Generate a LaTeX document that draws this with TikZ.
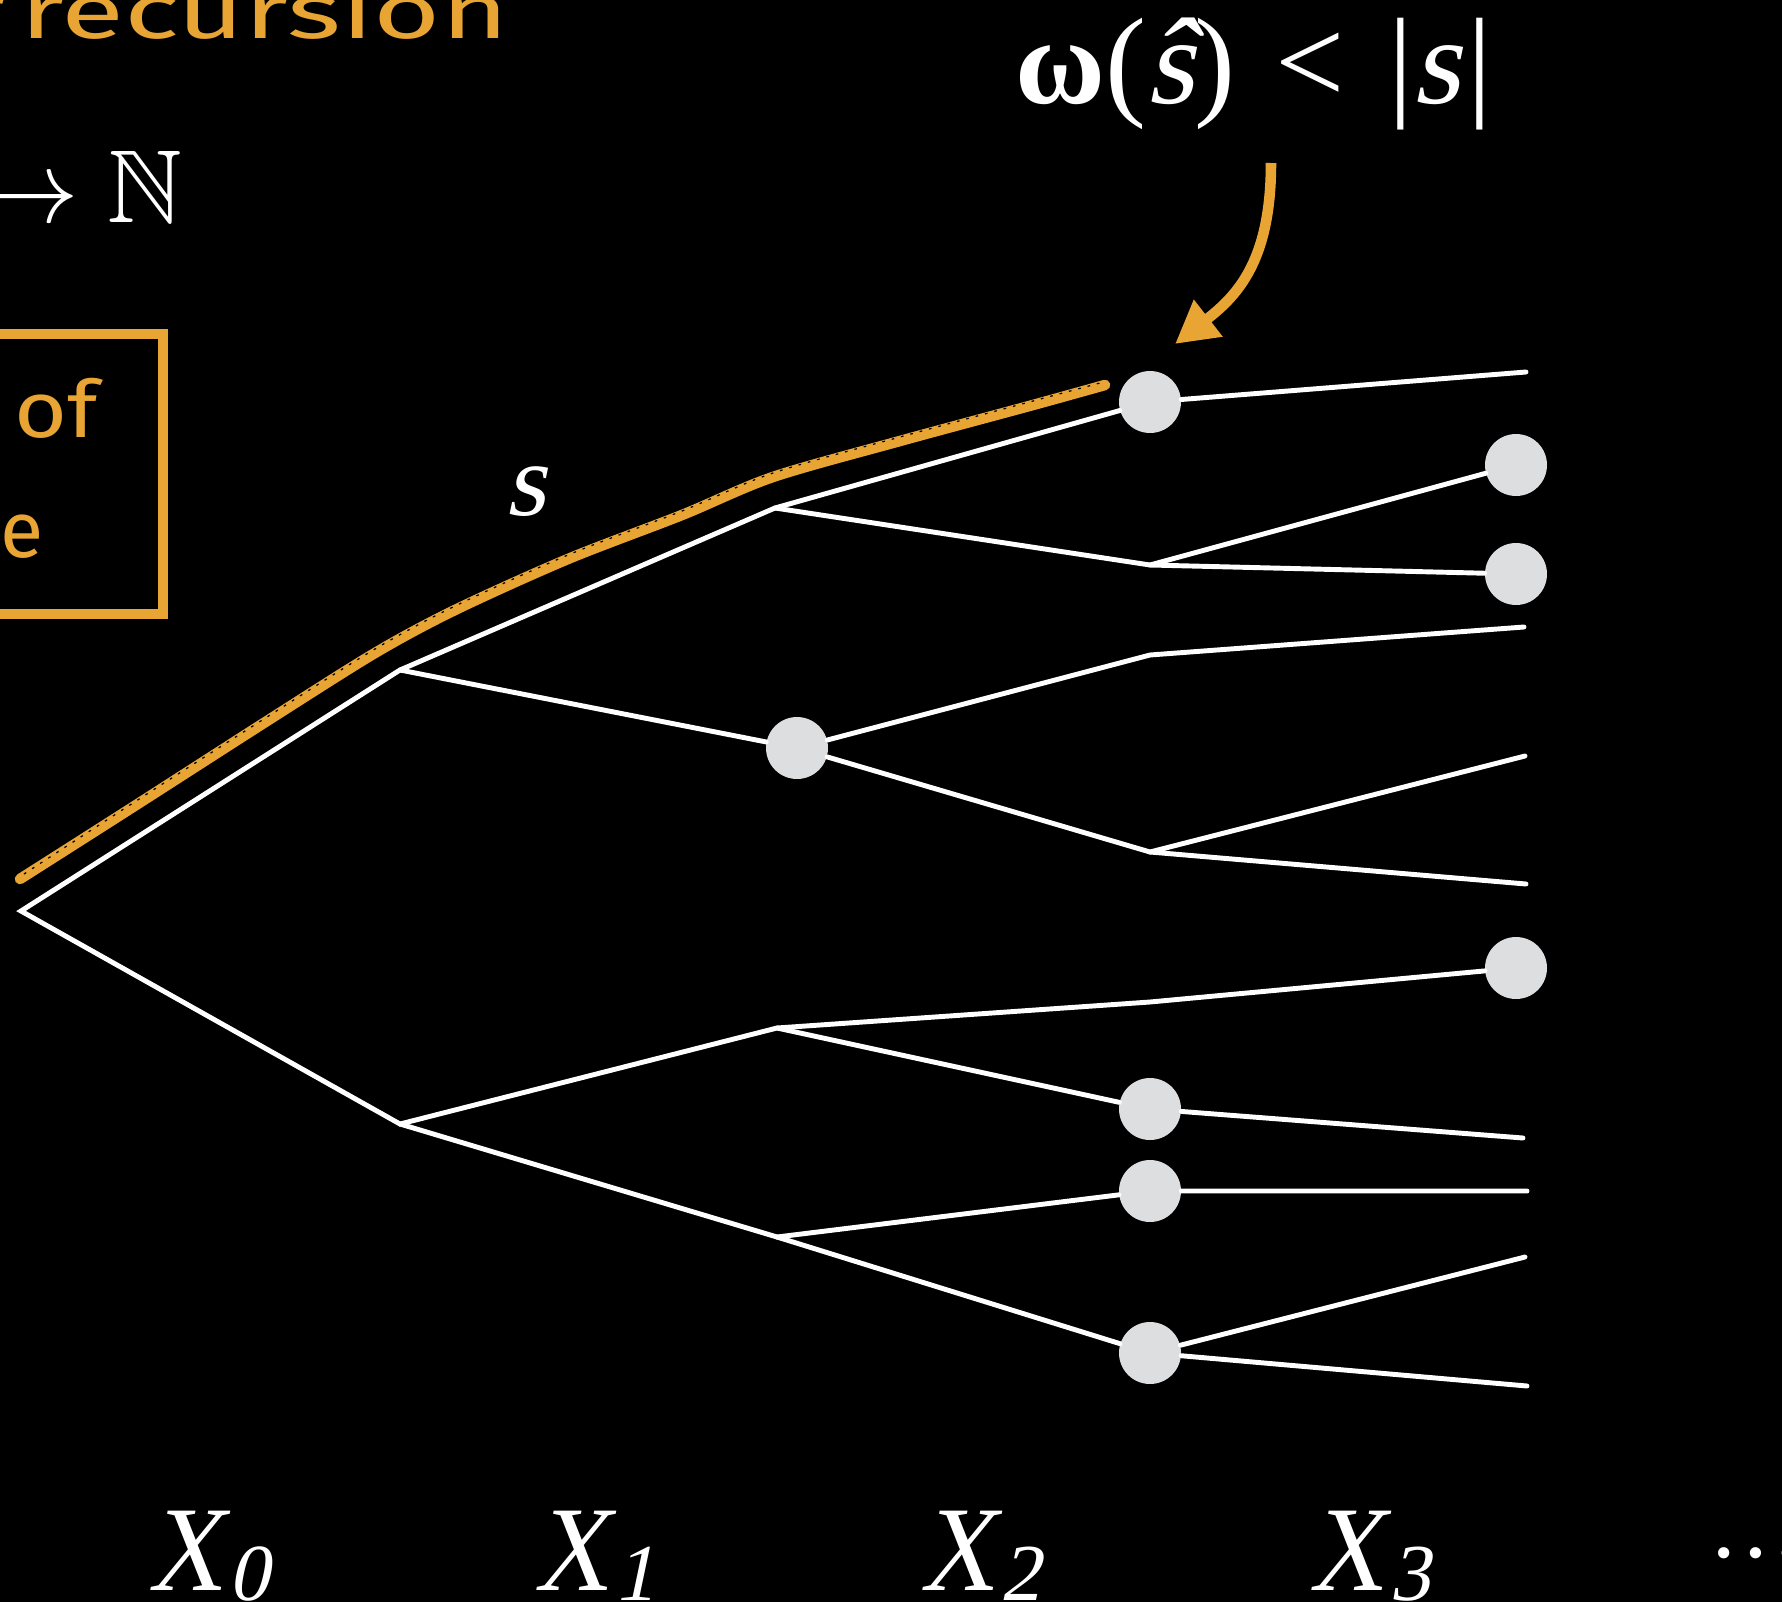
\RequirePackage{fix-cm}
\documentclass[tikz,border=0pt]{standalone}
\usepackage{amssymb}
\usepackage{fontspec}
\setmainfont{Liberation Serif}[ItalicFont={Liberation Serif},ItalicFeatures={FakeSlant=0.21},BoldFont={Liberation Serif Bold}]
\newfontfamily\handfont{Fira Sans}
\usetikzlibrary{positioning,arrows.meta,calc}
\definecolor{chalkOrange}{RGB}{233,165,52}
\definecolor{dotGray}{RGB}{221,222,224}
\newcommand\lvltext[1]{\scalebox{0.85}[1]{X}\hspace{3pt}\raisebox{-5.7pt}{\fontsize{46}{50}\selectfont #1}}

\begin{document}
\begin{tikzpicture}[x=0.02cm,y=-0.02cm,
    edge/.style={white,line width=2.8pt,line cap=round},
    dot/.style={circle,fill=dotGray,minimum size=1.24cm,inner sep=0pt},
    chalk/.style={chalkOrange,line width=6pt,line cap=round},
    chalkgrain/.style={black,line width=0.7pt,dash pattern=on 1.5pt off 4pt},
    callarr/.style={chalkOrange,line width=6pt,-{Triangle[length=24pt,width=25pt]}},
    hand/.style={text=chalkOrange,inner sep=0pt,font=\handfont},
    lvl/.style={text=white,anchor=base west,inner sep=0pt,font=\fontsize{69}{80}\selectfont\itshape}]
  \useasboundingbox (0,0) rectangle (1782,1602);
  \fill[black] (0,0) rectangle (1782,1602);
  \clip (0,0) rectangle (1782,1602);

  % leftovers of the slide, cut by the frame
  \node[hand,anchor=base east] (rec) at (509,39) {\fontsize{44}{48}\selectfont\scalebox{1.49}[1]{r\hspace{-0.14em} recursion}};
  \node[text=white,anchor=base east,inner sep=0pt,font=\fontsize{59}{70}\selectfont] (nat) at (183,222) {$\to\mathbb{N}$};
  \draw[chalkOrange,line width=5.8pt] (-40,334) rectangle (163,614);
  \node[hand,anchor=base west] (bxof) at (14,437) {\fontsize{45}{54}\selectfont\scalebox{1.15}[1]{of}};
  \node[hand,anchor=base west] (bxe) at (0,557) {\fontsize{45}{54}\selectfont e};

  % the tree
  \coordinate (r) at (21,911);
  \coordinate (a1) at (400,670);
  \coordinate (b1) at (400,1124);
  \coordinate (p) at (775,508);
  \node[dot] (m) at (797,748) {};
  \coordinate (q) at (777,1028);
  \coordinate (rr) at (777,1237);
  \node[dot] (t) at (1150,402) {};
  \coordinate (j1) at (1150,565);
  \coordinate (j2) at (1150,655);
  \coordinate (j3) at (1150,852);
  \coordinate (k) at (1150,1002);
  \node[dot] (d1) at (1150,1109) {};
  \node[dot] (d2) at (1150,1191) {};
  \node[dot] (d3) at (1150,1353) {};
  \coordinate (l1) at (1526,372);
  \node[dot] (e1) at (1516,465) {};
  \node[dot] (e2) at (1516,574) {};
  \coordinate (l2) at (1524,627);
  \coordinate (l3) at (1525,756);
  \coordinate (l4) at (1526,884);
  \node[dot] (e3) at (1516,968) {};
  \coordinate (l5) at (1523,1138);
  \coordinate (l6) at (1527,1191);
  \coordinate (l7) at (1525,1257);
  \coordinate (l8) at (1527,1386);

  \draw[edge] (t) -- (p) -- (a1) -- (r) -- (b1) -- (q) -- (k) -- (e3);
  \draw[edge] (a1) -- (m);
  \draw[edge] (p) -- (j1) -- (e1);
  \draw[edge] (j1) -- (e2);
  \draw[edge] (t) -- (l1);
  \draw[edge] (m) -- (j2) -- (l2);
  \draw[edge] (m) -- (j3) -- (l3);
  \draw[edge] (j3) -- (l4);
  \draw[edge] (q) -- (d1) -- (l5);
  \draw[edge] (b1) -- (rr) -- (d2) -- (l6);
  \draw[edge] (rr) -- (d3) -- (l7);
  \draw[edge] (d3) -- (l8);

  % highlighted branch s
  \draw[chalk] plot[smooth,tension=0.5] coordinates {(20,879) (133,807) (267,721) (375,653) (455,610) (568,559) (682,515) (773,477) (900,441) (1033,405) (1105,385)};
  \draw[chalkgrain] plot[smooth,tension=0.5] coordinates {(24,874) (133,803) (267,717) (375,649) (455,606) (568,555) (682,511) (773,473) (900,437) (1033,401) (1100,383)};
  \node[text=white,anchor=base west,inner sep=0pt,font=\fontsize{59}{70}\selectfont\itshape] (slab) at (505,515) {s};

  % the claim and its arrow
  \node[text=white,anchor=base west,inner sep=0pt,font=\fontsize{70}{80}\selectfont] (fml) at (1015,104)
    {{\bfseries ω}(\textit{ŝ})\hspace{0.33em}<\hspace{0.35em}|\textit{s}\hspace{0.06em}|};
  \coordinate (arrtop) at (1271,163);
  \coordinate (arrtip) at (1175,344);
  \draw[callarr] (arrtop) .. controls (1271,260) and (1238,295) .. (arrtip);

  % levels
  \node[lvl] (x0) at (148,1590) {\lvltext{0}};
  \node[lvl] (x1) at (534,1590) {\lvltext{1}};
  \node[lvl] (x2) at (920,1590) {\lvltext{2}};
  \node[lvl] (x3) at (1309,1590) {\lvltext{3}};
  \node[text=white,anchor=base west,inner sep=0pt,font=\fontsize{54}{60}\selectfont] (more) at (1708,1557) {…};
\end{tikzpicture}
\end{document}
